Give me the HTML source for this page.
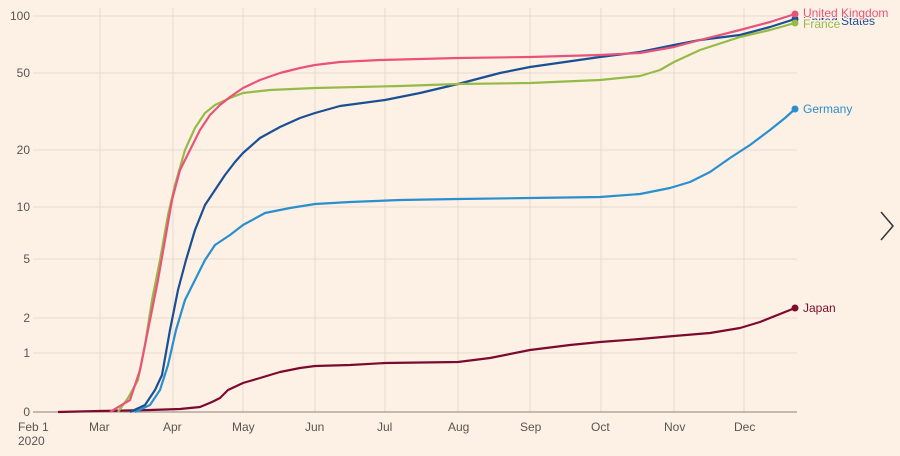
<!DOCTYPE html>
<html><head><meta charset="utf-8"><style>
html,body{margin:0;padding:0;background:#fdf1e6;}
svg{display:block;font-family:"Liberation Sans",sans-serif;}
</style></head><body>
<svg width="900" height="456" viewBox="0 0 900 456">
<rect width="900" height="456" fill="#fdf1e6"/>
<g stroke="#e6dbd0" stroke-width="1">
<line x1="100" y1="8" x2="100" y2="412"/><line x1="173" y1="8" x2="173" y2="412"/>
<line x1="243" y1="8" x2="243" y2="412"/><line x1="315" y1="8" x2="315" y2="412"/>
<line x1="385" y1="8" x2="385" y2="412"/><line x1="458" y1="8" x2="458" y2="412"/>
<line x1="530" y1="8" x2="530" y2="412"/><line x1="601" y1="8" x2="601" y2="412"/>
<line x1="674" y1="8" x2="674" y2="412"/><line x1="744" y1="8" x2="744" y2="412"/>
<line x1="33" y1="16" x2="797" y2="16"/><line x1="33" y1="73" x2="797" y2="73"/>
<line x1="33" y1="150" x2="797" y2="150"/><line x1="33" y1="207" x2="797" y2="207"/>
<line x1="33" y1="259" x2="797" y2="259"/><line x1="33" y1="318" x2="797" y2="318"/>
<line x1="33" y1="353" x2="797" y2="353"/>
</g>
<line x1="33" y1="412" x2="797" y2="412" stroke="#8a8079" stroke-width="1"/>
<g font-size="12" fill="#5a5450" text-anchor="end">
<text x="30" y="20">100</text><text x="30" y="77">50</text><text x="30" y="154">20</text>
<text x="30" y="211">10</text><text x="30" y="263">5</text><text x="30" y="322">2</text>
<text x="30" y="357">1</text><text x="30" y="416">0</text>
</g>
<g font-size="12" fill="#5a5450">
<text x="18" y="431">Feb 1</text><text x="18" y="445">2020</text>
<text x="89" y="431">Mar</text><text x="163" y="431">Apr</text><text x="232" y="431">May</text>
<text x="305" y="431">Jun</text><text x="377" y="431">Jul</text><text x="448" y="431">Aug</text>
<text x="520" y="431">Sep</text><text x="591" y="431">Oct</text><text x="664" y="431">Nov</text>
<text x="734" y="431">Dec</text>
</g>
<g fill="none" stroke-width="2.2" stroke-linejoin="round">
<polyline stroke="#7d0a2e" points="58,412 100,411 150,410 180,409 200,407 212,402 220,398 228,390 243,383 260,378 280,372 300,368 315,366 350,365 385,363 458,362 490,358 530,350 570,345 600,342 640,339 674,336 710,333 740,328 760,322 780,314 795,308"/>
<polyline stroke="#2a8fcf" points="135,412 150,405 160,390 168,365 176,330 185,300 195,280 205,260 215,245 230,235 243,225 265,213 290,208 315,204 350,202 400,200 458,199 530,198 600,197 640,194 670,188 690,182 710,172 730,158 750,145 770,130 785,118 795,109"/>
<polyline stroke="#1a4f94" points="130,412 145,405 155,390 162,375 170,330 178,290 186,260 195,230 205,205 215,190 225,175 235,162 243,153 260,138 280,127 300,118 315,113 340,106 385,100 420,93 458,84 500,73 530,67 600,57 640,52 674,45 700,40 740,35 770,27 795,19"/>
<polyline stroke="#95bb46" points="118,412 128,398 138,380 145,345 152,300 160,260 168,215 175,185 185,150 195,128 205,113 215,105 230,98 243,93 270,90 315,88 400,86 458,84 530,83 600,80 640,76 660,70 674,62 700,50 740,37 770,30 795,23"/>
<polyline stroke="#e9537a" points="110,412 130,400 140,370 150,320 158,280 165,240 172,200 180,170 190,150 200,130 210,115 220,105 230,97 243,88 260,80 280,73 300,68 315,65 340,62 380,60 458,58 530,57 600,55 640,53 674,47 700,40 740,30 770,22 795,14"/>
</g>
<circle cx="795" cy="308" r="3.5" fill="#7d0a2e"/>
<circle cx="795" cy="109" r="3.5" fill="#2a8fcf"/>
<circle cx="795" cy="19" r="3.5" fill="#1a4f94"/>
<circle cx="795" cy="23" r="3.5" fill="#95bb46"/>
<circle cx="795" cy="14" r="3.5" fill="#e9537a"/>
<g font-size="12">
<text x="803" y="25" fill="#1a4f94">United States</text>
<text x="803" y="28" fill="#95bb46" stroke="#fdf1e6" stroke-width="3" paint-order="stroke">France</text>
<text x="803" y="17" fill="#e9537a" stroke="#fdf1e6" stroke-width="2" paint-order="stroke">United Kingdom</text>
<text x="803" y="113" fill="#2a8fcf">Germany</text>
<text x="803" y="312" fill="#7d0a2e">Japan</text>
</g>
<polyline points="881,212 893,226 881,240" fill="none" stroke="#333" stroke-width="1.5"/>
</svg>
</body></html>
